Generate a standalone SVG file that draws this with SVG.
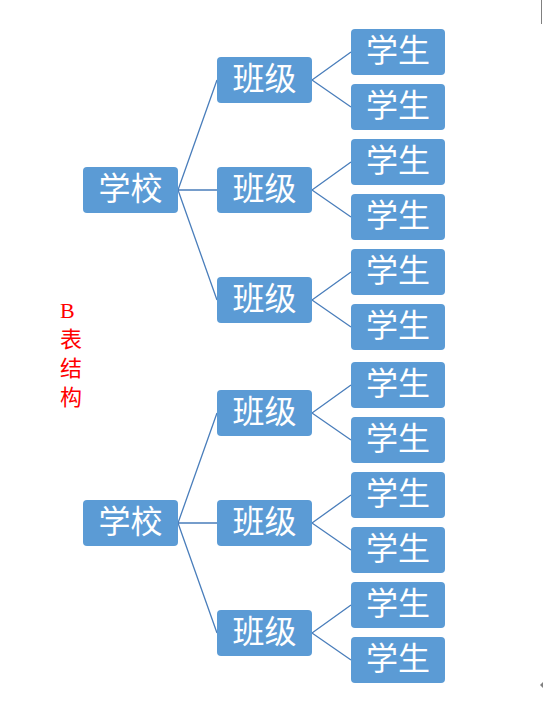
<svg xmlns="http://www.w3.org/2000/svg" width="543" height="720" viewBox="0 0 543 720">
<style>
.box{fill:#5b9bd5;}
.lbl{fill:#ffffff;font-family:"Noto Sans CJK SC","Noto Sans",sans-serif;font-size:32px;text-anchor:middle;}
.cn{stroke:#4a7ebb;stroke-width:1.3;fill:none;}
.red{fill:#ff0000;font-family:"Liberation Serif","Noto Sans CJK SC",serif;font-size:22px;}
</style>
<rect width="543" height="720" fill="#ffffff"/>
<g id="connectors">
<path class="cn" d="M178,190 L217,80 M178,190 L217,190 M178,190 L217,300"/>
<path class="cn" d="M312,80 L351,52 M312,80 L351,107 M312,190 L351,162 M312,190 L351,217 M312,300 L351,272 M312,300 L351,327"/>
<path class="cn" d="M178,523 L217,413 M178,523 L217,523 M178,523 L217,633"/>
<path class="cn" d="M312,413 L351,385 M312,413 L351,440 M312,523 L351,495 M312,523 L351,550 M312,633 L351,605 M312,633 L351,660"/>
</g>
<g id="school1"><rect class="box" x="83" y="167" width="95" height="46" rx="4"/><text class="lbl" x="130.5" y="200">学校</text></g>
<g id="class1a"><rect class="box" x="217" y="57" width="95" height="46" rx="4"/><text class="lbl" x="264.5" y="90">班级</text></g>
<g id="class1b"><rect class="box" x="217" y="167" width="95" height="46" rx="4"/><text class="lbl" x="264.5" y="200">班级</text></g>
<g id="class1c"><rect class="box" x="217" y="277" width="95" height="46" rx="4"/><text class="lbl" x="264.5" y="310">班级</text></g>
<g id="stu1a"><rect class="box" x="351" y="29" width="94" height="46" rx="4"/><text class="lbl" x="398" y="62">学生</text></g>
<g id="stu1b"><rect class="box" x="351" y="84" width="94" height="46" rx="4"/><text class="lbl" x="398" y="117">学生</text></g>
<g id="stu1c"><rect class="box" x="351" y="139" width="94" height="46" rx="4"/><text class="lbl" x="398" y="172">学生</text></g>
<g id="stu1d"><rect class="box" x="351" y="194" width="94" height="46" rx="4"/><text class="lbl" x="398" y="227">学生</text></g>
<g id="stu1e"><rect class="box" x="351" y="249" width="94" height="46" rx="4"/><text class="lbl" x="398" y="282">学生</text></g>
<g id="stu1f"><rect class="box" x="351" y="304" width="94" height="46" rx="4"/><text class="lbl" x="398" y="337">学生</text></g>
<g id="school2"><rect class="box" x="83" y="500" width="95" height="46" rx="4"/><text class="lbl" x="130.5" y="533">学校</text></g>
<g id="class2a"><rect class="box" x="217" y="390" width="95" height="46" rx="4"/><text class="lbl" x="264.5" y="423">班级</text></g>
<g id="class2b"><rect class="box" x="217" y="500" width="95" height="46" rx="4"/><text class="lbl" x="264.5" y="533">班级</text></g>
<g id="class2c"><rect class="box" x="217" y="610" width="95" height="46" rx="4"/><text class="lbl" x="264.5" y="643">班级</text></g>
<g id="stu2a"><rect class="box" x="351" y="362" width="94" height="46" rx="4"/><text class="lbl" x="398" y="395">学生</text></g>
<g id="stu2b"><rect class="box" x="351" y="417" width="94" height="46" rx="4"/><text class="lbl" x="398" y="450">学生</text></g>
<g id="stu2c"><rect class="box" x="351" y="472" width="94" height="46" rx="4"/><text class="lbl" x="398" y="505">学生</text></g>
<g id="stu2d"><rect class="box" x="351" y="527" width="94" height="46" rx="4"/><text class="lbl" x="398" y="560">学生</text></g>
<g id="stu2e"><rect class="box" x="351" y="582" width="94" height="46" rx="4"/><text class="lbl" x="398" y="615">学生</text></g>
<g id="stu2f"><rect class="box" x="351" y="637" width="94" height="46" rx="4"/><text class="lbl" x="398" y="670">学生</text></g>
<g id="label">
<text class="red" x="60" y="318">B</text>
<text class="red" x="60" y="347">表</text>
<text class="red" x="60" y="376">结</text>
<text class="red" x="60" y="405">构</text>
</g>
<line x1="541.5" y1="0" x2="541.5" y2="24" stroke="#808080" stroke-width="1"/>
<path d="M540,685 L543,682 L543,688 Z" fill="#808080"/>
</svg>
